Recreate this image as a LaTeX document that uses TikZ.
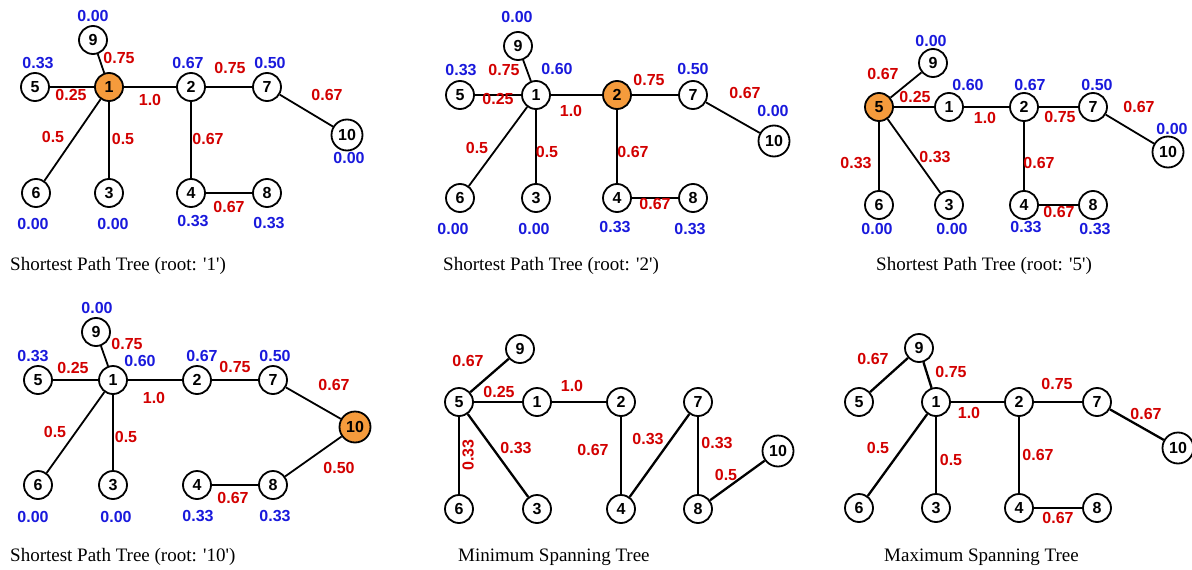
\documentclass[tikz,border=0pt]{standalone}
\usepackage{fontspec}
\setmainfont{Liberation Serif}
\setsansfont{Liberation Sans}
\definecolor{rootorange}{RGB}{245,155,60}
\definecolor{wred}{RGB}{210,0,0}
\definecolor{sblue}{RGB}{25,25,220}
\newcommand{\vtxfont}{\sffamily\bfseries\fontsize{16pt}{16pt}\selectfont}
\newcommand{\lblfont}{\sffamily\bfseries\fontsize{16pt}{16pt}\selectfont}
\newcommand{\ttlfont}{\rmfamily\fontsize{19pt}{19pt}\selectfont}
\newcommand{\sq}{\textquotesingle}
\tikzset{
  vtx/.style={circle, draw, line width=1.8pt, minimum size=28pt, inner sep=0pt, fill=white, font=\vtxfont},
  rootv/.style={fill=rootorange},
  wide/.style={minimum size=31pt},
  wt/.style={text=wred, font=\lblfont, inner sep=0pt},
  sc/.style={text=sblue, font=\lblfont, inner sep=0pt},
  lnk/.style={line width=1.8pt},
  tlnk/.style={line width=2.3pt},
  ttl/.style={anchor=base west, inner sep=0pt, font=\ttlfont}
}
\begin{document}
\begin{tikzpicture}[x=1pt, y=-1pt]
\useasboundingbox (0,0) rectangle (1192,570);

% ---------- Shortest path tree, root 1 ----------
\node[vtx] (A9) at (93,40) {9};
\node[vtx,rootv] (A1) at (109,87) {1};
\node[vtx] (A5) at (35,87) {5};
\node[vtx] (A2) at (191,87) {2};
\node[vtx] (A7) at (267,87) {7};
\node[vtx,wide] (A10) at (347,135) {10};
\node[vtx] (A6) at (36,193) {6};
\node[vtx] (A3) at (109,193) {3};
\node[vtx] (A4) at (191,193) {4};
\node[vtx] (A8) at (267,193) {8};
\draw[lnk] (A1) -- (A9);
\draw[lnk] (A1) -- (A5);
\draw[lnk] (A1) -- (A2);
\draw[lnk] (A1) -- (A6);
\draw[lnk] (A1) -- (A3);
\draw[lnk] (A2) -- (A7);
\draw[lnk] (A2) -- (A4);
\draw[lnk] (A7) -- (A10);
\draw[lnk] (A4) -- (A8);
\node[wt] (Aw19) at (119,58) {0.75};
\node[wt] (Aw15) at (71,95) {0.25};
\node[wt] (Aw12) at (150,100) {1.0};
\node[wt] (Aw27) at (230,68) {0.75};
\node[wt] (Aw710) at (327,95) {0.67};
\node[wt] (Aw16) at (53,137) {0.5};
\node[wt] (Aw13) at (123,139) {0.5};
\node[wt] (Aw24) at (208,139) {0.67};
\node[wt] (Aw48) at (229,207) {0.67};
\node[sc] (As9) at (93,16) {0.00};
\node[sc] (As5) at (38,63) {0.33};
\node[sc] (As2) at (188,63) {0.67};
\node[sc] (As7) at (270,63) {0.50};
\node[sc] (As10) at (349,158) {0.00};
\node[sc] (As6) at (33,224) {0.00};
\node[sc] (As3) at (113,224) {0.00};
\node[sc] (As4) at (193,221) {0.33};
\node[sc] (As8) at (269,223) {0.33};
\node[ttl] (At) at (10,270) {Shortest Path Tree (root: \sq1\sq)};

% ---------- Shortest path tree, root 2 ----------
\node[vtx] (B9) at (518,46) {9};
\node[vtx] (B1) at (536,95) {1};
\node[vtx] (B5) at (460,95) {5};
\node[vtx,rootv] (B2) at (617,95) {2};
\node[vtx] (B7) at (693,95) {7};
\node[vtx,wide] (B10) at (774,141) {10};
\node[vtx] (B6) at (460,198) {6};
\node[vtx] (B3) at (536,198) {3};
\node[vtx] (B4) at (617,198) {4};
\node[vtx] (B8) at (693,198) {8};
\draw[lnk] (B1) -- (B9);
\draw[lnk] (B1) -- (B5);
\draw[lnk] (B1) -- (B2);
\draw[lnk] (B1) -- (B6);
\draw[lnk] (B1) -- (B3);
\draw[lnk] (B2) -- (B7);
\draw[lnk] (B2) -- (B4);
\draw[lnk] (B7) -- (B10);
\draw[lnk] (B4) -- (B8);
\node[wt] (Bw19) at (504,70) {0.75};
\node[wt] (Bw15) at (498,99) {0.25};
\node[wt] (Bw12) at (571,111) {1.0};
\node[wt] (Bw27) at (649,80) {0.75};
\node[wt] (Bw710) at (745,93) {0.67};
\node[wt] (Bw16) at (477,148) {0.5};
\node[wt] (Bw13) at (547,152) {0.5};
\node[wt] (Bw24) at (633,152) {0.67};
\node[wt] (Bw48) at (655,204) {0.67};
\node[sc] (Bs9) at (517,17) {0.00};
\node[sc] (Bs5) at (461,70) {0.33};
\node[sc] (Bs1) at (557,69) {0.60};
\node[sc] (Bs7) at (693,69) {0.50};
\node[sc] (Bs10) at (773,111) {0.00};
\node[sc] (Bs6) at (453,229) {0.00};
\node[sc] (Bs3) at (534,229) {0.00};
\node[sc] (Bs4) at (615,227) {0.33};
\node[sc] (Bs8) at (690,229) {0.33};
\node[ttl] (Bt) at (443,270) {Shortest Path Tree (root: \sq2\sq)};

% ---------- Shortest path tree, root 5 ----------
\node[vtx] (C9) at (933,63) {9};
\node[vtx,rootv] (C5) at (879,107) {5};
\node[vtx] (C1) at (949,107) {1};
\node[vtx] (C2) at (1024,107) {2};
\node[vtx] (C7) at (1093,107) {7};
\node[vtx,wide] (C10) at (1168,152) {10};
\node[vtx] (C6) at (879,205) {6};
\node[vtx] (C3) at (949,205) {3};
\node[vtx] (C4) at (1024,205) {4};
\node[vtx] (C8) at (1093,205) {8};
\draw[lnk] (C5) -- (C9);
\draw[lnk] (C5) -- (C1);
\draw[lnk] (C5) -- (C6);
\draw[lnk] (C5) -- (C3);
\draw[lnk] (C1) -- (C2);
\draw[lnk] (C2) -- (C7);
\draw[lnk] (C2) -- (C4);
\draw[lnk] (C7) -- (C10);
\draw[lnk] (C4) -- (C8);
\node[wt] (Cw59) at (883,74) {0.67};
\node[wt] (Cw51) at (915,97) {0.25};
\node[wt] (Cw12) at (985,118) {1.0};
\node[wt] (Cw27) at (1060,117) {0.75};
\node[wt] (Cw710) at (1139,107) {0.67};
\node[wt] (Cw56) at (856,163) {0.33};
\node[wt] (Cw53) at (935,157) {0.33};
\node[wt] (Cw24) at (1039,163) {0.67};
\node[wt] (Cw48) at (1059,212) {0.67};
\node[sc] (Cs9) at (931,41) {0.00};
\node[sc] (Cs1) at (968,85) {0.60};
\node[sc] (Cs2) at (1030,85) {0.67};
\node[sc] (Cs7) at (1097,85) {0.50};
\node[sc] (Cs10) at (1172,129) {0.00};
\node[sc] (Cs6) at (877,229) {0.00};
\node[sc] (Cs3) at (952,229) {0.00};
\node[sc] (Cs4) at (1026,227) {0.33};
\node[sc] (Cs8) at (1095,229) {0.33};
\node[ttl] (Ct) at (876,270) {Shortest Path Tree (root: \sq5\sq)};

% ---------- Shortest path tree, root 10 ----------
\node[vtx] (D9) at (96,332) {9};
\node[vtx] (D1) at (113,380) {1};
\node[vtx] (D5) at (38,380) {5};
\node[vtx] (D2) at (197,380) {2};
\node[vtx] (D7) at (273,380) {7};
\node[vtx,wide,rootv] (D10) at (355,427) {10};
\node[vtx] (D6) at (38,485) {6};
\node[vtx] (D3) at (113,485) {3};
\node[vtx] (D4) at (197,485) {4};
\node[vtx] (D8) at (273,485) {8};
\draw[lnk] (D1) -- (D9);
\draw[lnk] (D1) -- (D5);
\draw[lnk] (D1) -- (D2);
\draw[lnk] (D1) -- (D6);
\draw[lnk] (D1) -- (D3);
\draw[lnk] (D2) -- (D7);
\draw[lnk] (D7) -- (D10);
\draw[lnk] (D10) -- (D8);
\draw[lnk] (D8) -- (D4);
\node[wt] (Dw19) at (127,344) {0.75};
\node[wt] (Dw15) at (73,368) {0.25};
\node[wt] (Dw12) at (154,398) {1.0};
\node[wt] (Dw27) at (235,367) {0.75};
\node[wt] (Dw710) at (334,385) {0.67};
\node[wt] (Dw16) at (55,432) {0.5};
\node[wt] (Dw13) at (126,437) {0.5};
\node[wt] (Dw108) at (339,468) {0.50};
\node[wt] (Dw48) at (233,498) {0.67};
\node[sc] (Ds9) at (97,308) {0.00};
\node[sc] (Ds5) at (33,356) {0.33};
\node[sc] (Ds1) at (140,361) {0.60};
\node[sc] (Ds2) at (202,356) {0.67};
\node[sc] (Ds7) at (275,356) {0.50};
\node[sc] (Ds6) at (33,517) {0.00};
\node[sc] (Ds3) at (116,517) {0.00};
\node[sc] (Ds4) at (198,516) {0.33};
\node[sc] (Ds8) at (275,516) {0.33};
\node[ttl] (Dt) at (10,561) {Shortest Path Tree (root: \sq10\sq)};

% ---------- Minimum spanning tree ----------
\node[vtx] (E9) at (520,349) {9};
\node[vtx] (E5) at (459,402) {5};
\node[vtx] (E1) at (537,402) {1};
\node[vtx] (E2) at (621,402) {2};
\node[vtx] (E7) at (698,402) {7};
\node[vtx,wide] (E10) at (778,451) {10};
\node[vtx] (E6) at (459,509) {6};
\node[vtx] (E3) at (537,509) {3};
\node[vtx] (E4) at (621,509) {4};
\node[vtx] (E8) at (698,509) {8};
\draw[tlnk] (E5) -- (E9);
\draw[tlnk] (E5) -- (E1);
\draw[tlnk] (E1) -- (E2);
\draw[tlnk] (E5) -- (E6);
\draw[tlnk] (E5) -- (E3);
\draw[tlnk] (E2) -- (E4);
\draw[tlnk] (E4) -- (E7);
\draw[tlnk] (E7) -- (E8);
\draw[tlnk] (E8) -- (E10);
\node[wt] (Ew59) at (468,361) {0.67};
\node[wt] (Ew51) at (499,392) {0.25};
\node[wt] (Ew12) at (572,386) {1.0};
\node[wt, rotate=90] (Ew56) at (468,455) {0.33};
\node[wt] (Ew53) at (516,448) {0.33};
\node[wt] (Ew24) at (593,450) {0.67};
\node[wt] (Ew47) at (648,439) {0.33};
\node[wt] (Ew78) at (717,443) {0.33};
\node[wt] (Ew810) at (726,475) {0.5};
\node[ttl] (Et) at (458,561) {Minimum Spanning Tree};

% ---------- Maximum spanning tree ----------
\node[vtx] (F9) at (919,348) {9};
\node[vtx] (F5) at (859,402) {5};
\node[vtx] (F1) at (936,402) {1};
\node[vtx] (F2) at (1019,402) {2};
\node[vtx] (F7) at (1097,402) {7};
\node[vtx,wide] (F10) at (1178,448) {10};
\node[vtx] (F6) at (859,508) {6};
\node[vtx] (F3) at (936,508) {3};
\node[vtx] (F4) at (1019,508) {4};
\node[vtx] (F8) at (1097,508) {8};
\draw[tlnk] (F9) -- (F5);
\draw[tlnk] (F9) -- (F1);
\draw[tlnk] (F1) -- (F2);
\draw[tlnk] (F1) -- (F6);
\draw[tlnk] (F1) -- (F3);
\draw[tlnk] (F2) -- (F7);
\draw[tlnk] (F7) -- (F10);
\draw[tlnk] (F2) -- (F4);
\draw[tlnk] (F4) -- (F8);
\node[wt] (Fw95) at (873,359) {0.67};
\node[wt] (Fw91) at (951,372) {0.75};
\node[wt] (Fw12) at (969,413) {1.0};
\node[wt] (Fw27) at (1057,384) {0.75};
\node[wt] (Fw710) at (1146,414) {0.67};
\node[wt] (Fw16) at (878,448) {0.5};
\node[wt] (Fw13) at (951,460) {0.5};
\node[wt] (Fw24) at (1038,455) {0.67};
\node[wt] (Fw48) at (1058,518) {0.67};
\node[ttl] (Ft) at (884,561) {Maximum Spanning Tree};
\end{tikzpicture}
\end{document}
